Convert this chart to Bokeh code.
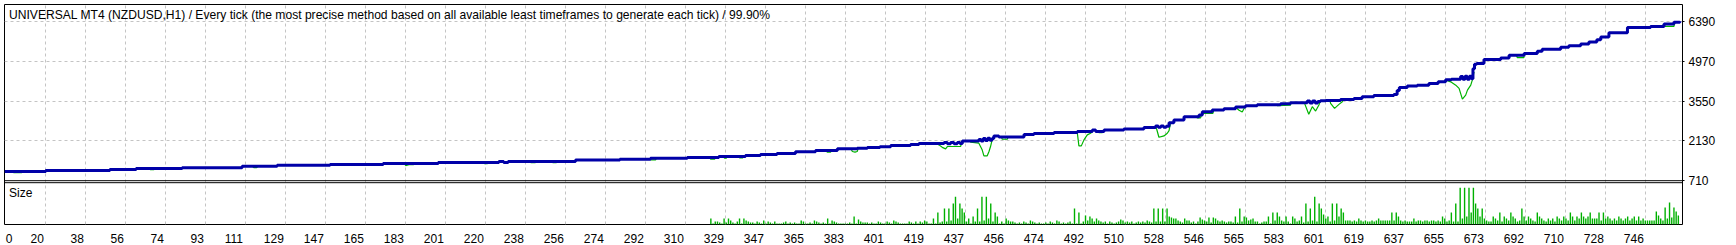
from bokeh.plotting import figure
from bokeh.models import Range1d, FixedTicker, Label, Span
from bokeh.embed import file_html
from bokeh.resources import INLINE

# ---------------- data ----------------
title_text = ("UNIVERSAL MT4 (NZDUSD,H1) / Every tick (the most precise method based on "
              "all available least timeframes to generate each tick) / 99.90%")
size_title = "Size"

x_tick_labels = [0, 20, 38, 56, 74, 93, 111, 129, 147, 165, 183, 201, 220, 238, 256, 274,
                 292, 310, 329, 347, 365, 383, 401, 419, 437, 456, 474, 492, 510, 528, 546,
                 565, 583, 601, 619, 637, 655, 673, 692, 710, 728, 746]
y_tick_labels = [710, 2130, 3550, 4970, 6390]

# balance (blue): trade number where the level starts, balance level
bal_x = [1.5, 20.2, 49.3, 61.2, 82.1, 109.3, 125.2, 149.2, 173.3, 198.3, 225.8, 228.0, 230.0,
         260.6, 280.7, 294.6, 311.3, 325.6, 337.7, 344.5, 352.0, 360.4, 369.5, 379.4, 388.4,
         393.0, 398.7, 403.6, 412.6, 416.4, 427.8, 429.3, 430.8, 432.3, 433.8, 435.0, 436.1,
         443.6, 444.6, 445.6, 446.6, 447.6, 448.6, 449.6, 450.4, 452.7, 464.1, 468.6, 477.7,
         488.3, 495.1, 496.6, 500.4, 509.4, 518.5, 523.8, 525.0, 526.2, 527.4, 528.6, 529.9,
         532.1, 536.7, 543.5, 545.0, 549.5, 554.8, 560.1, 564.6, 569.9, 580.5, 585.0, 592.6,
         593.8, 595.0, 596.2, 597.4, 598.6, 601.0, 607.7, 613.8, 617.5, 622.8, 631.9, 633.4,
         634.4, 638.0, 642.5, 647.8, 652.0, 655.4, 658.0, 662.2, 663.2, 664.2, 665.2, 666.2,
         667.2, 667.8, 668.5, 669.5, 672.8, 680.4, 684.2, 691.0, 697.0, 699.2, 707.6, 711.3,
         716.7, 720.4, 724.0, 725.8, 729.5, 737.9, 748.4, 754.5, 759.0, 761.7]
bal_y = [1036, 1071, 1106, 1141, 1176, 1222, 1257, 1292, 1327, 1362, 1397, 1362, 1397,
         1444, 1479, 1515, 1538, 1574, 1609, 1645, 1680, 1740, 1787, 1846, 1870,
         1893, 1917, 1964, 2000, 2035, 2071, 2024, 2071, 2024, 2071, 2035, 2130,
         2177, 2130, 2213, 2142, 2225, 2154, 2213, 2307, 2272, 2355, 2390, 2426,
         2461, 2520, 2461, 2520, 2556, 2603, 2662, 2615, 2662, 2615, 2650, 2781,
         2876, 2994, 3053, 3171, 3231, 3278, 3337, 3384, 3420, 3455, 3491, 3550,
         3479, 3550, 3479, 3538, 3562, 3574, 3609, 3645, 3704, 3751, 3787, 3930,
         4035, 4083, 4118, 4177, 4236, 4307, 4331, 4425, 4331, 4437, 4331, 4437,
         4343, 4700, 4864, 4887, 5029, 5088, 5183, 5242, 5325, 5396, 5467, 5526,
         5585, 5656, 5739, 5834, 5990, 6170, 6213, 6300, 6360, 6395]

# equity (green) drawdown excursions below the balance
eq_x = [[5.0, 5.6, 9.3, 10.0], [67.0, 67.6, 69.3, 69.8], [114.0, 114.6, 115.9, 116.5],
        [183.0, 183.5, 185.0, 187.1, 187.6], [219.0, 219.3, 220.6, 221.0],
        [240.0, 240.5, 242.2, 242.7], [250.0, 250.3, 251.9, 252.3],
        [294.4, 294.9, 296.9, 297.3], [321.5, 321.9, 323.7, 324.1],
        [327.6, 328.2, 329.0, 329.6], [334.7, 335.0, 336.5, 336.9],
        [374.5, 374.8, 376.3, 376.7], [385.6, 386.2, 387.4, 388.4, 388.8],
        [424.0, 425.5, 427.0, 428.5, 429.3, 435.3, 436.1],
        [439.6, 439.9, 443.6, 445.1, 445.9, 447.4, 448.2, 448.9, 449.7, 450.4],
        [453.9, 454.2, 456.5, 456.9],
        [488.0, 488.3, 489.0, 490.1, 491.3, 492.8, 494.3, 495.1],
        [497.8, 498.1, 499.6, 500.0],
        [523.9, 524.3, 525.3, 527.6, 529.1, 529.9, 530.6],
        [542.4, 542.7, 544.2, 544.6], [544.9, 545.5, 549.8, 550.2],
        [560.1, 561.5, 563.1, 564.6], [578.7, 579.0, 585.0, 585.3],
        [591.1, 591.4, 593.3, 594.9, 596.4, 597.9, 598.6],
        [602.9, 603.2, 605.0, 607.0, 608.5, 608.9],
        [655.4, 657.7, 660.0, 661.5, 663.0, 664.5, 665.3, 666.8, 667.5, 668.3],
        [687.6, 687.9, 690.9, 691.2], [754.1, 754.5, 759.0, 759.4]]
eq_y = [[1036, 1001, 1001, 1036], [1141, 1106, 1106, 1141], [1222, 1176, 1176, 1222],
        [1327, 1250, 1280, 1280, 1327], [1362, 1315, 1315, 1362],
        [1397, 1350, 1350, 1397], [1397, 1350, 1350, 1397],
        [1479, 1450, 1450, 1515], [1538, 1479, 1479, 1538],
        [1574, 1515, 1515, 1574], [1574, 1527, 1527, 1574],
        [1787, 1728, 1728, 1787], [1846, 1751, 1728, 1751, 1846],
        [2035, 1988, 1900, 1846, 1929, 1929, 2130],
        [2130, 2083, 2047, 1810, 1598, 1598, 1751, 1929, 2189, 2307],
        [2272, 2189, 2189, 2272],
        [2426, 2402, 1952, 1952, 2166, 2343, 2402, 2461],
        [2461, 2420, 2420, 2461],
        [2603, 2544, 2260, 2307, 2402, 2497, 2781],
        [2994, 2950, 2950, 3053], [3171, 3112, 3112, 3231],
        [3337, 3230, 3160, 3384], [3420, 3390, 3408, 3491],
        [3491, 3467, 3077, 3349, 3195, 3408, 3562],
        [3574, 3467, 3290, 3432, 3526, 3609],
        [4300, 4236, 4118, 4000, 3621, 3763, 3940, 4118, 4295, 4591],
        [5183, 5100, 5100, 5242], [6300, 6215, 6215, 6360]]

# position size (hundredths of a lot) per trade, starting at trade 322
size_first_trade = 322
size_hundredths = [
    6, 1, 3, 3, 2, 1,
    6, 2, 6, 4, 2, 1, 3, 6, 1, 6, 4, 3, 2, 2, 1, 3, 2, 1, 4,
    1, 3, 2, 1, 3, 1, 1, 1, 2, 3, 1, 2, 1, 2, 1, 1, 4, 3,
    1, 1, 2, 1, 4, 3, 2, 1, 2, 1, 6, 1, 4, 3, 2, 1, 1, 1,
    1, 1, 2, 1, 8, 1, 5, 3, 2, 2, 2, 1, 2, 1, 1, 3, 2, 1,
    1, 3, 2, 1, 4, 3, 2, 1, 1, 1, 1, 3, 2, 1, 3, 1, 3, 2,
    4, 3, 1, 1, 6, 1, 12, 2, 3, 16, 3, 16, 4, 21, 28, 6, 21, 16,
    12, 3, 6, 1, 8, 3, 16, 3, 28, 4, 28, 6, 21, 3, 12, 8, 1, 3,
    1, 6, 4, 3, 3, 2, 1, 2, 1, 3, 2, 1, 4, 3, 2, 1, 2, 1,
    1, 2, 1, 3, 2, 1, 4, 3, 1, 2, 1, 2, 3, 1, 16, 1, 12, 1,
    3, 9, 4, 8, 6, 3, 6, 4, 3, 2, 3, 1, 3, 2, 1, 2, 3, 5,
    4, 2, 3, 2, 3, 1, 2, 3, 2, 3, 2, 4, 3, 2, 16, 3, 16, 3,
    16, 3, 16, 8, 7, 6, 6, 4, 3, 2, 6, 4, 4, 2, 3, 1,
    3, 7, 5,
    4, 3, 7, 2, 7, 6, 4, 3, 4, 3, 2, 3, 3, 2, 8, 2, 16, 3,
    8, 7, 4, 5, 6, 3, 3, 1, 2, 3, 3, 8, 1, 12, 4, 12, 8, 4,
    3, 8, 3, 1, 8, 6, 3, 4, 8, 2, 21, 3, 16, 4, 28, 3, 21, 16, 10,
    6, 8, 3, 21, 4, 21, 8, 16, 12, 4, 4, 4, 3, 4, 3, 6, 4, 3,
    4, 3, 3, 4, 3, 4, 6, 4, 4, 4, 4, 4, 12, 4, 12, 8, 4, 3,
    4, 3, 3, 3, 6, 3, 4, 4, 3, 4, 4, 3, 4, 4, 3, 4, 3, 8,
    6, 3, 4, 12, 3, 21, 3, 37, 6, 37, 8, 37, 12, 37, 21, 16, 8, 16, 6,
    4, 3, 3, 8, 6, 4, 12, 3, 8, 6, 4, 12, 8, 6, 3, 4, 16, 8,
    4, 8, 6, 4, 3, 12, 8, 6, 4, 3, 6, 4, 6, 3, 8, 6, 4, 8,
    6, 4, 12, 8, 4, 8, 6, 12, 8, 6, 8, 12, 6, 6, 6, 12, 4, 12,
    6, 8, 6, 4, 6, 4, 8, 6, 4, 6, 8, 4, 6, 8, 4, 8, 4, 6,
    4, 4, 4, 4, 4, 13, 9, 6, 4, 17, 6, 22, 7, 17, 13, 9,
]
size_x = [size_first_trade + i for i in range(len(size_hundredths))]
size_lots = [v / 100 for v in size_hundredths]

# ---------------- layout constants ----------------
W, H = 1736, 245
PX_PER_TRADE = 40 / 18.15          # 40 px between vertical grid lines
GRID0 = 20                          # first vertical grid line value
GRID0_PX = 44.8
FRAME_L, FRAME_R = 4, 1682
FRAME_T, FRAME_B = 4, 225
MAIN_B = 181                        # main panel bottom (value 710)
UNITS_PER_PX = 35.5

x_start = GRID0 + (FRAME_L - GRID0_PX) / PX_PER_TRADE
x_end = GRID0 + (FRAME_R - GRID0_PX) / PX_PER_TRADE
y_end = 710 + (MAIN_B - FRAME_T) * UNITS_PER_PX
y_start = 710 - (FRAME_B - MAIN_B) * UNITS_PER_PX

def xv(px):
    return GRID0 + (px - GRID0_PX) / PX_PER_TRADE

def yv(py):
    return 710 + (MAIN_B - py) * UNITS_PER_PX

p = figure(width=W, height=H, x_range=Range1d(x_start, x_end), y_range=Range1d(y_start, y_end),
           output_backend="svg", toolbar_location=None, y_axis_location="right",
           min_border_left=FRAME_L, min_border_right=W - FRAME_R,
           min_border_top=FRAME_T, min_border_bottom=H - FRAME_B)
p.extra_y_ranges = {"size": Range1d(0, (FRAME_B - FRAME_T) / 100)}
p.background_fill_color = "white"
p.border_fill_color = "white"
p.outline_line_color = "black"
p.outline_line_width = 1

grid_vals = [GRID0 + 18.15 * k for k in range(len(x_tick_labels) - 1)]
p.xgrid.ticker = FixedTicker(ticks=grid_vals)
p.ygrid.ticker = FixedTicker(ticks=y_tick_labels[1:])
for g in (p.xgrid, p.ygrid):
    g.grid_line_color = "#c4c4c4"
    g.grid_line_dash = "3 3"
    g.grid_line_width = 1

# x axis labels right-aligned to the grid lines (shift tick to label centre)
digit_w = 6.67
tick_pos = [round(xv(8.6), 3)]
for gv, lab in zip(grid_vals, x_tick_labels[1:]):
    w = len(str(lab)) * digit_w
    tick_pos.append(round(gv - (1.5 + w / 2) / PX_PER_TRADE, 3))
overrides = {t: str(l) for t, l in zip(tick_pos, x_tick_labels)}
xa = p.xaxis[0]
xa.ticker = FixedTicker(ticks=tick_pos)
xa.major_label_overrides = overrides
xa.major_tick_line_color = None
xa.minor_tick_line_color = None
xa.axis_line_color = None
xa.major_label_standoff = 3
xa.major_label_text_font = "Liberation Sans"
xa.major_label_text_font_size = "12px"
xa.major_label_text_color = "black"

ya = p.yaxis[0]
ya.ticker = FixedTicker(ticks=y_tick_labels)
ya.major_tick_in = 0
ya.major_tick_out = 2
ya.major_tick_line_color = "black"
ya.minor_tick_line_color = None
ya.axis_line_color = None
ya.major_label_standoff = 4
ya.major_label_text_font = "Liberation Sans"
ya.major_label_text_font_size = "12px"
ya.major_label_text_color = "black"

# panel separators
p.add_layout(Span(location=710, dimension="width", line_color="black", line_width=1))
p.add_layout(Span(location=yv(183), dimension="width", line_color="black", line_width=1))

# equity dips, balance, sizes
p.multi_line(xs=eq_x, ys=eq_y, line_color="#00b400", line_width=1.2)
p.step(x=bal_x, y=bal_y, mode="after", line_color="#0000a8", line_width=3)
p.segment(x0=size_x, y0=[0] * len(size_x), x1=size_x, y1=size_lots, y_range_name="size",
          line_color="#00b000", line_width=1.4)

p.add_layout(Label(x=xv(8.5), y=yv(14.5), text=title_text, text_font="Liberation Sans",
                   text_font_size="12.1px", text_baseline="middle", text_align="left",
                   text_color="black"))
p.add_layout(Label(x=xv(8.5), y=yv(193.5), text=size_title, text_font="Liberation Sans",
                   text_font_size="12px", text_baseline="middle", text_align="left",
                   text_color="black"))

open("out.html", "w").write(file_html(p, INLINE))
